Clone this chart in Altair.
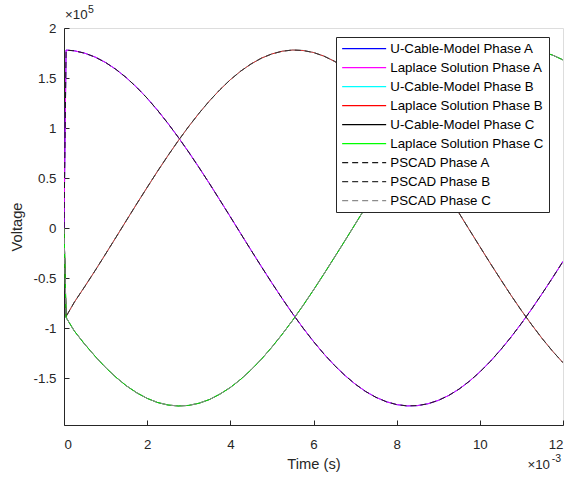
import altair as alt
import pandas as pd

# time in milliseconds (axis shows seconds x 10^-3)
t_ms = [0.0, 0.05, 0.25, 0.5, 0.75, 1.0, 1.25, 1.5, 1.75, 2.0, 2.25, 2.5, 2.75, 3.0, 3.25, 3.5,
        3.75, 4.0, 4.25, 4.5, 4.75, 5.0, 5.25, 5.5, 5.75, 6.0, 6.25, 6.5, 6.75, 7.0, 7.25,
        7.5, 7.75, 8.0, 8.25, 8.5, 8.75, 9.0, 9.25, 9.5, 9.75, 10.0, 10.25, 10.5, 10.75,
        11.0, 11.25, 11.5, 11.75, 12.0]

# voltages in units of 1e5 V
phase_a = [0.0, 1.779, 1.772, 1.748, 1.709, 1.655, 1.586, 1.503, 1.406, 1.298, 1.177, 1.046,
           0.906, 0.758, 0.603, 0.443, 0.278, 0.112, -0.056, -0.223, -0.388, -0.550, -0.707,
           -0.858, -1.001, -1.135, -1.259, -1.372, -1.472, -1.560, -1.634, -1.693, -1.737,
           -1.766, -1.779, -1.776, -1.758, -1.724, -1.675, -1.611, -1.532, -1.440, -1.335,
           -1.218, -1.091, -0.954, -0.808, -0.655, -0.497, -0.334]
phase_b = [0.0, -0.885, -0.741, -0.585, -0.425, -0.260, -0.093, 0.075, 0.242, 0.406, 0.568,
           0.724, 0.874, 1.016, 1.149, 1.272, 1.383, 1.483, 1.569, 1.641, 1.699, 1.741, 1.768,
           1.780, 1.775, 1.755, 1.719, 1.668, 1.603, 1.523, 1.429, 1.323, 1.205, 1.076, 0.938,
           0.791, 0.638, 0.479, 0.315, 0.149, -0.019, -0.186, -0.352, -0.514, -0.673, -0.825,
           -0.969, -1.106, -1.232, -1.347]
phase_c = [0.0, -0.895, -1.031, -1.163, -1.284, -1.395, -1.493, -1.578, -1.648, -1.704, -1.745,
           -1.770, -1.780, -1.774, -1.752, -1.715, -1.661, -1.595, -1.513, -1.418, -1.311,
           -1.191, -1.061, -0.922, -0.774, -0.620, -0.460, -0.296, -0.131, 0.037, 0.205,
           0.370, 0.532, 0.690, 0.841, 0.985, 1.120, 1.245, 1.360, 1.462, 1.551, 1.626, 1.687,
           1.732, 1.764, 1.779, 1.777, 1.761, 1.729, 1.681]

series_names = ["U-Cable-Model Phase A", "Laplace Solution Phase A",
                "U-Cable-Model Phase B", "Laplace Solution Phase B",
                "U-Cable-Model Phase C", "Laplace Solution Phase C",
                "PSCAD Phase A", "PSCAD Phase B", "PSCAD Phase C"]
series_data = [phase_a, phase_a, phase_b, phase_b, phase_c, phase_c, phase_a, phase_b, phase_c]
series_colors = ["#0000FF", "#FF00FF", "#00FFFF", "#FF0000", "#000000", "#00FF00",
                 "#1a1a1a", "#333333", "#8c8c8c"]
series_dash = [[1, 0]] * 6 + [[6, 4]] * 3

x_tick_values = [0, 2, 4, 6, 8, 10, 12]
y_tick_values = [-1.5, -1, -0.5, 0, 0.5, 1, 1.5, 2]

rows = []
for i, (name, vals) in enumerate(zip(series_names, series_data)):
    for tm, v in zip(t_ms, vals):
        rows.append({"t": tm, "v": v, "series": name, "order": i})
df = pd.DataFrame(rows)

FONT = "Liberation Sans"
INK = "#262626"
W, H = 499, 397
x_scale = alt.Scale(domain=[0, 12], nice=False, zero=False)
y_scale = alt.Scale(domain=[-1.97, 2], nice=False, zero=False)

legend_cfg = dict(title=None, orient="none", legendX=272, legendY=9,
                  symbolType="M-1,0H7", symbolSize=121, symbolStrokeWidth=1.2,
                  labelFont=FONT, labelFontSize=13.3, labelColor="#000000",
                  labelOffset=36, rowPadding=5, padding=5,
                  strokeColor=INK, fillColor="#ffffff", labelLimit=300)

lines = alt.Chart(df).mark_line(strokeWidth=1, clip=True).encode(
    x=alt.X("t:Q", scale=x_scale,
            axis=alt.Axis(values=x_tick_values, title="Time (s)", format="d",
                          tickSize=0, labelPadding=12, titlePadding=6, grid=False,
                          domainColor=INK, labelColor=INK, titleColor=INK,
                          labelFont=FONT, titleFont=FONT, labelFontSize=13.3, titleFontSize=14.7,
                          titleFontWeight="normal")),
    y=alt.Y("v:Q", scale=y_scale,
            axis=alt.Axis(values=y_tick_values, title="Voltage", labelExpr="'' + datum.value",
                          tickSize=0, labelPadding=8, titlePadding=9, grid=False,
                          domainColor=INK, labelColor=INK, titleColor=INK,
                          labelFont=FONT, titleFont=FONT, labelFontSize=13.3, titleFontSize=14.7,
                          titleFontWeight="normal")),
    color=alt.Color("series:N", scale=alt.Scale(domain=series_names, range=series_colors),
                    legend=alt.Legend(**legend_cfg)),
    strokeDash=alt.StrokeDash("series:N", scale=alt.Scale(domain=series_names, range=series_dash),
                              legend=alt.Legend(**legend_cfg)),
    order=alt.Order("order:Q"),
)

# inward tick marks: axes drawn on the opposite sides, shifted onto the plot edges
ticks = alt.Chart(df).mark_point(opacity=0).encode(
    x=alt.X("t:Q", scale=x_scale,
            axis=alt.Axis(orient="top", offset=-H, values=x_tick_values, labels=False, title=None,
                          domain=False, tickSize=5, tickColor=INK, grid=False)),
    y=alt.Y("v:Q", scale=y_scale,
            axis=alt.Axis(orient="right", offset=-W, values=y_tick_values, labels=False,
                          title=None, domain=False, tickSize=5, tickColor=INK, grid=False)),
)

exp_data = pd.DataFrame({"t": [0.0], "v": [2.0], "t2": [12.0], "v2": [-1.97]})


def exp_text(xf, yf, txt, size, dx, dy, align):
    return alt.Chart(exp_data).mark_text(
        align=align, baseline="alphabetic", font=FONT, fontSize=size, color=INK,
        dx=dx, dy=dy, text=txt
    ).encode(x=alt.X(xf, scale=x_scale, axis=None), y=alt.Y(yf, scale=y_scale, axis=None))


exp_y_base = exp_text("t:Q", "v:Q", "\u00d710", 13.3, 1, -9, "left")
exp_y_sup = exp_text("t:Q", "v:Q", "5", 10.5, 24, -15, "left")
exp_x_base = exp_text("t2:Q", "v2:Q", "\u00d710", 13.3, -13, 44, "right")
exp_x_sup = exp_text("t2:Q", "v2:Q", "-3", 10.5, -2, 37, "right")

chart = alt.layer(lines, ticks, exp_y_base, exp_y_sup, exp_x_base, exp_x_sup).resolve_axis(
    x="independent", y="independent"
).properties(
    width=W, height=H,
    autosize=alt.AutoSizeParams(type="none"),
    padding={"left": 64, "top": 28, "right": 7, "bottom": 54},
).configure_view(stroke=None).configure(background="#ffffff")

chart.save("out.html", embed_options={"renderer": "svg", "actions": False})
